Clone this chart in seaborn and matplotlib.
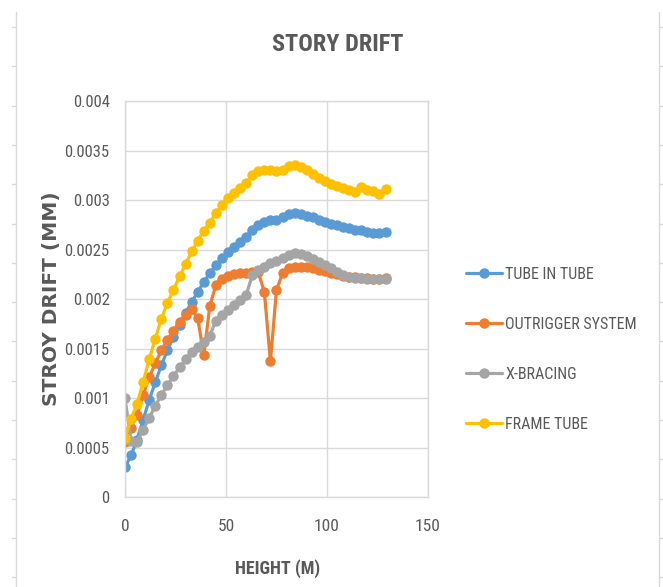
import numpy as np
import pandas as pd
import matplotlib
matplotlib.use('Agg')
import matplotlib.pyplot as plt
import seaborn as sns
from matplotlib.lines import Line2D
import logging

logging.getLogger('matplotlib.font_manager').setLevel(logging.ERROR)

# Data (height in m, drift)
height = [0, 3, 6, 9, 12, 15, 18, 21, 24, 27, 30, 33, 36, 39, 42, 45, 48, 51, 54, 57, 60, 63,
          66, 69, 72, 75, 78, 81, 84, 87, 90, 93, 96, 99, 102, 105, 108, 111, 114, 117, 120,
          123, 126, 129]

tube_in_tube = [0.00030, 0.00042, 0.00058, 0.00078, 0.00098, 0.00116, 0.00133, 0.00148,
                0.00162, 0.00174, 0.00186, 0.00197, 0.00207, 0.00217, 0.00226, 0.00234,
                0.00241, 0.00247, 0.00253, 0.00258, 0.00263, 0.00270, 0.00275, 0.00278,
                0.00280, 0.00280, 0.00283, 0.00286, 0.00287, 0.00286, 0.00284, 0.00283,
                0.00280, 0.00278, 0.00276, 0.00275, 0.00273, 0.00272, 0.00270, 0.00270,
                0.00268, 0.00267, 0.00267, 0.00268]

outrigger = [0.00056, 0.00070, 0.00083, 0.00103, 0.00121, 0.00135, 0.00148, 0.00159,
             0.00168, 0.00177, 0.00184, 0.00190, 0.00181, 0.00143, 0.00193, 0.00214,
             0.00220, 0.00223, 0.00225, 0.00226, 0.00226, 0.00227, 0.00227, 0.00207,
             0.00137, 0.00209, 0.00226, 0.00231, 0.00232, 0.00232, 0.00232, 0.00231,
             0.00229, 0.00228, 0.00226, 0.00225, 0.00223, 0.00222, 0.00222, 0.00221,
             0.00221, 0.00220, 0.00220, 0.00221]

x_bracing = [0.00100, 0.00057, 0.00056, 0.00068, 0.00080, 0.00092, 0.00103, 0.00113,
             0.00122, 0.00131, 0.00139, 0.00146, 0.00152, 0.00157, 0.00163, 0.00178,
             0.00184, 0.00189, 0.00194, 0.00199, 0.00204, 0.00224, 0.00229, 0.00232,
             0.00236, 0.00238, 0.00241, 0.00244, 0.00246, 0.00245, 0.00243, 0.00240,
             0.00237, 0.00234, 0.00231, 0.00227, 0.00224, 0.00222, 0.00221, 0.00221,
             0.00220, 0.00220, 0.00220, 0.00220]

frame_tube = [0.00060, 0.00079, 0.00094, 0.00116, 0.00139, 0.00160, 0.00180, 0.00196,
              0.00209, 0.00223, 0.00235, 0.00248, 0.00259, 0.00269, 0.00277, 0.00287,
              0.00295, 0.00302, 0.00307, 0.00312, 0.00317, 0.00325, 0.00329, 0.00330,
              0.00330, 0.00329, 0.00330, 0.00334, 0.00335, 0.00333, 0.00330, 0.00326,
              0.00322, 0.00319, 0.00316, 0.00314, 0.00312, 0.00310, 0.00308, 0.00313,
              0.00310, 0.00309, 0.00306, 0.00311]

series_names = ['TUBE IN TUBE', 'OUTRIGGER SYSTEM', 'X-BRACING', 'FRAME TUBE']
series_values = [tube_in_tube, outrigger, x_bracing, frame_tube]
colors = ['#5B9BD5', '#ED7D31', '#A5A5A5', '#FFC000']

sns.set_style('white')
plt.rcParams['font.family'] = ['Liberation Sans Narrow', 'Roboto Condensed', 'Liberation Sans']
text_color = '#595959'
grid_color = '#D9D9D9'

fig = plt.figure(figsize=(6.63, 5.87), dpi=100)
ax = fig.add_axes([0.1885, 0.1533, 0.457, 0.6746])

for name, vals, col in zip(series_names, series_values, colors):
    df = pd.DataFrame({'height': height, 'drift': vals})
    sns.lineplot(data=df, x='height', y='drift', ax=ax, color=col, linewidth=2.3,
                 marker='o', markersize=7.5, markeredgewidth=0, sort=False, label=name)

ax.set_xlim(0, 150)
ax.set_ylim(0, 0.004)
ax.set_xticks([0, 50, 100, 150])
ax.set_yticks([0, 0.0005, 0.001, 0.0015, 0.002, 0.0025, 0.003, 0.0035, 0.004])
ax.set_yticklabels(['0', '0.0005', '0.001', '0.0015', '0.002', '0.0025', '0.003',
                    '0.0035', '0.004'])
ax.grid(True, color=grid_color, linewidth=1)
ax.set_axisbelow(True)
for s in ax.spines.values():
    s.set_color(grid_color)
    s.set_linewidth(1)
ax.tick_params(axis='both', length=0, colors=text_color)
ax.tick_params(axis='y', pad=11, labelsize=12)
ax.tick_params(axis='x', pad=16, labelsize=12.5)
ax.set_xlabel('')
ax.set_ylabel('')

leg = ax.legend(loc='center left', bbox_to_anchor=(0.703, 0.405), bbox_transform=fig.transFigure,
                frameon=False, fontsize=11.5, handlelength=2.25, handletextpad=0.2,
                labelspacing=2.2, borderaxespad=0, borderpad=0)
for t in leg.get_texts():
    t.set_color(text_color)

fig.text(0.509, 0.925, 'STORY DRIFT', ha='center', va='center', fontsize=17.5,
         fontweight='bold', color=text_color)
fig.text(0.418, 0.031, 'HEIGHT (M)', ha='center', va='center', fontsize=13,
         fontweight='bold', color=text_color)
fig.text(0.077, 0.492, 'STROY DRIFT (MM)', ha='center', va='center', rotation=90,
         fontsize=14.5, fontweight='bold', color=text_color, family='DejaVu Sans')

# spreadsheet cell borders around the chart
W, H = 663, 587
for xpx, dx in [(16, -4), (659, 4)]:
    fig.add_artist(Line2D([xpx / W, xpx / W], [1 - 12 / H, 0], color=grid_color, lw=1))
    for ypx in np.arange(27, 587, 39.3):
        fig.add_artist(Line2D([xpx / W, (xpx + dx) / W], [1 - ypx / H, 1 - ypx / H],
                              color=grid_color, lw=1))

fig.savefig('out.png', dpi=100, facecolor='white')
